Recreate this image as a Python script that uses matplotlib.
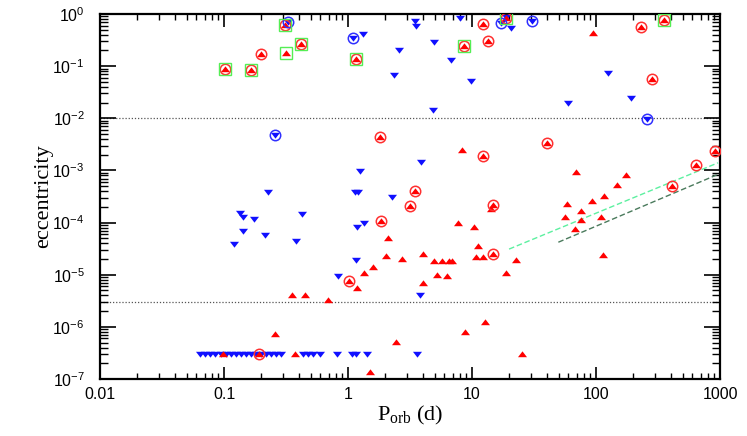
import numpy as np
import matplotlib
matplotlib.use("Agg")
import matplotlib.pyplot as plt
from matplotlib.ticker import LogLocator, NullFormatter, FixedLocator

plt.rcParams['font.family'] = ['Liberation Sans', 'DejaVu Sans']
plt.rcParams['mathtext.default'] = 'regular'

# red systems (upward triangles): orbital period (d), eccentricity
red_p = [0.102, 0.164, 0.198, 0.316, 0.31, 0.416, 1.17, 8.6, 12.3, 13.5, 18.7,
         94.6, 231, 355, 284,
         1.81, 8.26, 12.3, 40.3, 912, 637, 407, 3.47, 3.16, 14.9, 14.2, 1.85,
         7.77, 10.4, 2.1, 11.1, 2.02, 2.71, 4.05, 4.91, 5.69, 6.56, 6.86, 10.8,
         12.3, 14.9, 22.6, 1.58, 1.35, 1.02, 1.19, 5.19, 6.28, 18.7, 4.0,
         0.351, 0.45, 0.69,
         69, 175, 147, 117, 92, 58, 76, 56, 110, 76, 68, 113,
         0.098, 0.19, 0.374, 25.3, 0.26, 1.5, 2.45, 8.8, 12.8]
red_e = [0.087, 0.084, 0.169, 0.181, 0.61, 0.27, 0.135, 0.243, 0.643, 0.30, 0.85,
         0.438, 0.563, 0.767, 0.0574,
         4.4e-3, 2.45e-3, 1.9e-3, 3.4e-3, 2.36e-3, 1.27e-3, 5.1e-4, 4.0e-4, 2.1e-4,
         2.17e-4, 1.8e-4, 1.09e-4,
         9.9e-5, 8.3e-5, 5.1e-5, 3.6e-5, 2.3e-5, 2.0e-5, 2.5e-5, 1.8e-5, 1.8e-5,
         1.8e-5, 1.8e-5, 2.2e-5,
         2.15e-5, 2.5e-5, 1.9e-5, 1.43e-5, 1.06e-5, 7.6e-6, 5.6e-6, 9.9e-6, 9.4e-6,
         1.06e-5, 7.0e-6,
         4.1e-6, 4.1e-6, 3.3e-6,
         9.5e-4, 8.1e-4, 5.2e-4, 3.3e-4, 2.6e-4, 2.3e-4, 1.7e-4, 1.3e-4, 1.3e-4,
         1.13e-4, 7.6e-5, 2.4e-5,
         3e-7, 3e-7, 3e-7, 3e-7, 7.3e-7, 1.38e-7, 5.2e-7, 8.1e-7, 1.26e-6]

# red systems marked with an open circle / a green square
red_circ_p = [0.102, 0.164, 0.198, 0.31, 0.416, 1.17, 8.6, 12.3, 13.5, 18.7, 231,
              355, 284, 1.81, 12.3, 40.3, 912, 637, 407, 3.47, 3.16, 14.9, 1.85,
              14.9, 1.02, 0.19]
red_circ_e = [0.087, 0.084, 0.169, 0.61, 0.27, 0.135, 0.243, 0.643, 0.30, 0.85,
              0.563, 0.767, 0.0574, 4.4e-3, 1.9e-3, 3.4e-3, 2.36e-3, 1.27e-3,
              5.1e-4, 4.0e-4, 2.1e-4, 2.17e-4, 1.09e-4, 2.5e-5, 7.6e-6, 3e-7]
sq_p = [0.102, 0.164, 0.316, 0.31, 0.416, 1.17, 8.6, 18.7, 355]
sq_e = [0.087, 0.084, 0.181, 0.61, 0.27, 0.135, 0.243, 0.85, 0.767]

# blue systems (downward triangles)
blue_p = [0.26, 0.33, 1.09, 1.33, 2.6, 2.35, 3.47, 3.53, 4.97, 6.8, 4.84, 9.77,
          8.0, 17.1, 18.9, 20.5, 30.3, 126, 59.8, 191, 256,
          0.228, 0.135, 0.141, 0.173, 0.143, 0.214, 0.12, 3.9, 1.25, 1.14, 1.21,
          2.25, 0.428, 1.35, 1.18, 0.38, 1.16, 0.835, 3.78,
          0.064, 0.070, 0.077, 0.085, 0.095, 0.104, 0.114, 0.125, 0.137, 0.150,
          0.165, 0.181, 0.199, 0.218, 0.239, 0.263, 0.288, 0.434, 0.476, 0.52,
          0.593, 0.81, 1.07, 1.17, 1.42, 3.58]
blue_e = [4.8e-3, 0.69, 0.342, 0.408, 0.204, 0.068, 0.73, 0.589, 0.29, 0.131,
          0.0144, 0.052, 0.83, 0.67, 0.86, 0.53, 0.74, 0.073, 0.0194, 0.0245, 0.0098,
          3.9e-4, 1.55e-4, 1.28e-4, 1.15e-4, 6.8e-5, 5.8e-5, 3.9e-5, 1.47e-3,
          9.8e-4, 3.9e-4, 3.9e-4, 3.05e-4, 1.44e-4, 9.7e-5, 8.2e-5, 4.4e-5,
          1.9e-5, 9.6e-6, 4.0e-6,
          3e-7, 3e-7, 3e-7, 3e-7, 3e-7, 3e-7, 3e-7, 3e-7, 3e-7, 3e-7,
          3e-7, 3e-7, 3e-7, 3e-7, 3e-7, 3e-7, 3e-7, 3e-7, 3e-7, 3e-7,
          3e-7, 3e-7, 3e-7, 3e-7, 3e-7, 3e-7]
blue_circ_p = [0.26, 0.33, 1.09, 17.1, 30.3, 256]
blue_circ_e = [4.8e-3, 0.69, 0.342, 0.67, 0.74, 0.0098]

# dashed relations
fit1_p = [19.9, 964]
fit1_e = [3.1e-5, 1.4e-3]
fit2_p = [49.7, 940]
fit2_e = [4.2e-5, 8.2e-4]

# dotted levels
levels = [1e-2, 3e-6]

up = [(-1, -0.6), (1, -0.6), (0, 0.7), (-1, -0.6)]
down = [(-1, 0.6), (1, 0.6), (0, -0.7), (-1, 0.6)]

fig = plt.figure(figsize=(7.47, 4.36), dpi=100)
ax = fig.add_axes([100 / 747, 57 / 436, 620 / 747, 365 / 436])

for lv in levels:
    ax.axhline(lv, color='#555555', ls=(0, (1, 1.5)), lw=0.9, zorder=1)

ax.plot(fit1_p, fit1_e, color='#5cf0a0', ls=(0, (4, 2)), lw=1.0, zorder=2)
ax.plot(fit2_p, fit2_e, color='#4a7a5c', ls=(0, (4, 2)), lw=1.0, zorder=2)

ax.plot(blue_p, blue_e, ls='none', marker=down, ms=6.5, color='#1010ff', mew=0, zorder=3)
ax.plot(red_p, red_e, ls='none', marker=up, ms=6.5, color='#ff0000', mew=0, zorder=4)
ax.plot(red_circ_p, red_circ_e, ls='none', marker='o', ms=7.5, mfc='none',
        mec='#ff3030', mew=1.1, zorder=5)
ax.plot(blue_circ_p, blue_circ_e, ls='none', marker='o', ms=7.5, mfc='none',
        mec='#3030ff', mew=1.1, zorder=5)
ax.plot(sq_p, sq_e, ls='none', marker='s', ms=8.5, mfc='none',
        mec='#55ee55', mew=1.0, zorder=6)

ax.set_xscale('log')
ax.set_yscale('log')
ax.set_xlim(0.01, 1000)
ax.set_ylim(1e-7, 1)

ax.xaxis.set_major_locator(FixedLocator([0.01, 0.1, 1, 10, 100, 1000]))
ax.set_xticklabels(['0.01', '0.1', '1', '10', '100', '1000'])
ax.xaxis.set_minor_locator(LogLocator(base=10, subs=np.arange(2, 10), numticks=20))
ax.xaxis.set_minor_formatter(NullFormatter())
yt = [1e-7, 1e-6, 1e-5, 1e-4, 1e-3, 1e-2, 1e-1, 1]
ax.yaxis.set_major_locator(FixedLocator(yt))
ax.set_yticklabels(['$10^{-7}$', '$10^{-6}$', '$10^{-5}$', '$10^{-4}$',
                    '$10^{-3}$', '$10^{-2}$', '$10^{-1}$', '$10^{0}$'])
ax.yaxis.set_minor_locator(LogLocator(base=10, subs=np.arange(2, 10), numticks=20))
ax.yaxis.set_minor_formatter(NullFormatter())

ax.tick_params(which='both', direction='in', top=True, right=True, color='black')
ax.tick_params(axis='x', which='major', length=9, width=1.2, pad=6, labelsize=11.5)
ax.tick_params(axis='x', which='minor', length=4.5, width=1.0)
ax.tick_params(axis='y', which='major', length=11.5, width=1.2, pad=11, labelsize=11.5)
ax.tick_params(axis='y', which='minor', length=5.5, width=1.0)

for s in ax.spines.values():
    s.set_linewidth(1.6)

ax.set_xlabel('P$_{orb}$ (d)', family='Liberation Serif', fontsize=16, labelpad=1)
ax.set_ylabel('eccentricity', family='Liberation Serif', fontsize=16)
ax.yaxis.set_label_coords(-0.075, 0.5)

fig.savefig('out.png', dpi=100)
